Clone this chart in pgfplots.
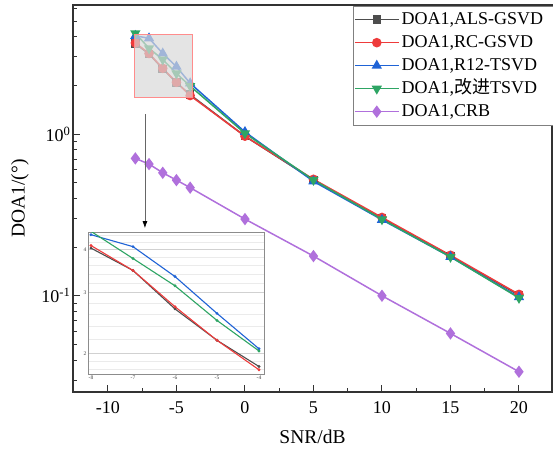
\documentclass[border=0pt]{standalone}
\usepackage{pgfplots}
\pgfplotsset{compat=1.18}
\usepackage{fontspec}
\setmainfont{Liberation Serif}
\newfontfamily\cjk{Noto Sans CJK SC}
\usetikzlibrary{arrows.meta}
\definecolor{cK}{HTML}{4D4D4D}
\definecolor{cR}{HTML}{EE3B3B}
\definecolor{cB}{HTML}{1F63D6}
\definecolor{cG}{HTML}{2EA564}
\definecolor{cP}{HTML}{B070DC}
\begin{document}
\begin{tikzpicture}
\useasboundingbox (-73pt,-58pt) rectangle (480pt,392pt);
\begin{axis}[
  scale only axis, width=479pt, height=387pt,
  at={(0,0)}, anchor=south west,
  xmin=-12.55, xmax=22.41,
  ymode=log, log basis y=10, ymin=0.0254, ymax=6.28,
  axis line style={draw=black!80, line width=1.2pt},
  xtick={-10,-5,0,5,10,15,20},
  xticklabels={-10,-5,0,5,10,15,20},
  minor xtick={-12.5,-7.5,-2.5,2.5,7.5,12.5,17.5,22.5},
  ytick={0.1,1},
  yticklabels={10\textsuperscript{-1},10\textsuperscript{0}},
  minor ytick={0.03,0.04,0.05,0.06,0.07,0.08,0.09,0.2,0.3,0.4,0.5,0.6,0.7,0.8,0.9,2,3,4,5,6},
  xtick pos=bottom, ytick pos=left, tick align=inside,
  major tick length=7pt, minor tick length=4pt,
  every tick/.style={black!80, line width=1pt},
  tick label style={font=\fontsize{18}{21}\selectfont},
  xticklabel style={yshift=-6pt},
  yticklabel style={xshift=1pt},
  xlabel={SNR/dB}, ylabel={DOA1/(°)},
  every axis x label/.style={at={(rel axis cs:0.5,0)}, yshift=-45pt, anchor=center, font=\fontsize{19.5}{22}\selectfont},
  every axis y label/.style={at={(rel axis cs:0,0.5)}, xshift=-53pt, rotate=90, anchor=center, font=\fontsize{19.5}{22}\selectfont},
  legend style={at={(rel axis cs:1.003,0.998)}, anchor=north east, draw=black!50, line width=0.8pt,
    fill=white, font=\fontsize{18}{20}\selectfont, inner xsep=1pt, inner ysep=3pt, row sep=2pt,
    nodes={text height=13pt, text depth=4pt, inner ysep=2pt, inner xsep=2pt}},
  legend cell align=left,
  legend image code/.code={\draw[mark repeat=2,mark phase=2] plot coordinates {(0pt,0pt) (22pt,0pt) (44pt,0pt)};},
  every axis plot/.append style={line width=1.5pt},
]
\addplot[cK, mark=square*, mark size=3.5pt] coordinates {
(-8,3.62) (-7,3.13) (-6,2.53) (-5,2.08) (-4,1.75) (0,0.97) (5,0.52) (10,0.30) (15,0.176) (20,0.101)};
\addlegendentry{DOA1,ALS-GSVD\hspace*{7pt}\mbox{}}
\addplot[cR, mark=*, mark size=4pt] coordinates {
(-8,3.66) (-7,3.15) (-6,2.55) (-5,2.09) (-4,1.73) (0,0.97) (5,0.525) (10,0.305) (15,0.178) (20,0.102)};
\addlegendentry{DOA1,RC-GSVD}
\addplot[cB, mark=triangle*, mark size=4.5pt] coordinates {
(-8,4.05) (-7,3.91) (-6,3.15) (-5,2.61) (-4,2.06) (0,1.03) (5,0.51) (10,0.295) (15,0.174) (20,0.098)};
\addlegendentry{DOA1,R12-TSVD}
\addplot[cG, mark=triangle*, mark options={rotate=180}, mark size=4.5pt] coordinates {
(-8,4.2) (-7,3.39) (-6,2.89) (-5,2.37) (-4,1.98) (0,1.01) (5,0.52) (10,0.297) (15,0.174) (20,0.097)};
\addlegendentry{DOA1,{\cjk 改进}TSVD}
\addplot[cP, mark=diamond*, mark size=5pt] coordinates {
(-8,0.707) (-7,0.652) (-6,0.576) (-5,0.519) (-4,0.466) (0,0.298) (5,0.176) (10,0.100) (15,0.0585) (20,0.0339)};
\addlegendentry{DOA1,CRB}
\coordinate (b1) at (axis cs:-8.1,1.69);
\coordinate (b2) at (axis cs:-3.82,4.15);
\coordinate (a1) at (axis cs:-7.3,1.33);
\coordinate (a2) at (axis cs:-7.3,0.262);
\coordinate (ins) at (rel axis cs:0.0313,0.0465);
\end{axis}
\fill[black!15, fill opacity=0.7] (b1) rectangle (b2);
\draw[red!45, line width=0.8pt] (b1) rectangle (b2);
\draw[black!60, line width=0.7pt, -{Latex[length=7pt,width=5pt,color=black]}] (a1) -- (a2);
\begin{axis}[
  scale only axis, width=176pt, height=142pt,
  at={(ins)}, anchor=south west,
  xmin=-8.071, xmax=-3.881,
  ymode=log, log basis y=10, ymin=1.74, ymax=4.5,
  axis background/.style={fill=white},
  axis line style={draw=black!45, line width=0.7pt},
  xtick={-8,-7,-6,-5,-4}, xticklabels={-8,-7,-6,-5,-4},
  ytick={2,3,4}, yticklabels={2,3,4},
  minor ytick={1.8,1.9,2.2,2.4,2.6,2.8,3.2,3.4,3.6,3.8,4.2,4.4},
  ymajorgrids, yminorgrids,
  major grid style={black!18, line width=0.5pt},
  minor grid style={black!8, line width=0.4pt},
  tick style={draw=none},
  tick label style={font=\fontsize{5.5}{6}\selectfont, text=black!75, inner sep=1.5pt},
  every axis plot/.append style={line width=1.1pt},
]
\addplot[cK, mark=*, mark size=0.8pt] coordinates {(-8,4.04) (-7,3.48) (-6,2.69) (-5,2.18) (-4,1.83)};
\addplot[cR, mark=*, mark size=0.8pt] coordinates {(-8,4.11) (-7,3.48) (-6,2.73) (-5,2.18) (-4,1.79)};
\addplot[cB, mark=*, mark size=0.8pt] coordinates {(-8,4.42) (-7,4.08) (-6,3.34) (-5,2.61) (-4,2.06)};
\addplot[cG, mark=*, mark size=0.8pt] coordinates {(-8,4.52) (-7,3.77) (-6,3.14) (-5,2.49) (-4,2.03)};
\end{axis}
\end{tikzpicture}
\end{document}
